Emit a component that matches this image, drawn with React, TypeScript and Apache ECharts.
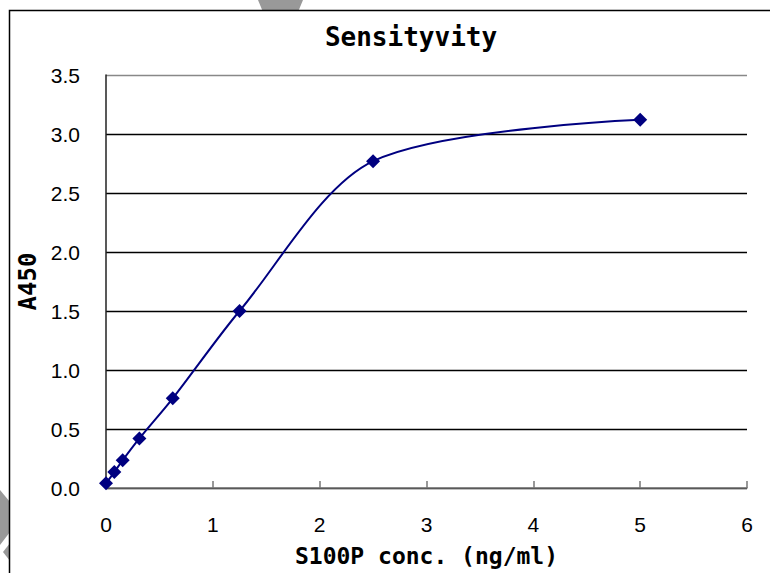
import React, { useEffect, useRef } from "react";
import * as echarts from "echarts";

const concentrations = [0, 0.078, 0.156, 0.3125, 0.625, 1.25, 2.5, 5];
const absorbance = [0.04, 0.135, 0.235, 0.42, 0.76, 1.5, 2.77, 3.12];
const xTicks = [0, 1, 2, 3, 4, 5, 6];
const yTickLabels = ["0.0", "0.5", "1.0", "1.5", "2.0", "2.5", "3.0", "3.5"];

export default function App() {
  const ref = useRef<HTMLDivElement>(null);
  useEffect(() => {
    if (!ref.current) return;
    const chart = echarts.init(ref.current, null, { renderer: "svg" });
    const tickFont = '"Liberation Sans Narrow", "Liberation Sans", Arial, sans-serif';
    const boldFont = '"DejaVu Sans Mono", monospace';
    chart.setOption({
      animation: false,
      backgroundColor: "#fff",
      title: {
        text: "Sensityvity",
        left: 406,
        top: 19,
        textAlign: "center",
        textStyle: { fontFamily: boldFont, fontWeight: "bold", fontSize: 26, color: "#000" },
      },
      graphic: [
        { type: "polygon", shape: { points: [[258, 0], [303, 0], [298, 12], [263, 12]] }, style: { fill: "#999" }, z: -10 },
        { type: "polygon", shape: { points: [[0, 490], [10, 502], [10, 532], [0, 545]] }, style: { fill: "#999" }, z: -10 },
        { type: "polygon", shape: { points: [[10, 543], [3, 552], [10, 561]] }, style: { fill: "#999" }, z: -10 },
        { type: "rect", shape: { x: 9.5, y: 10.5, width: 800, height: 600 }, style: { fill: "#fff", stroke: "#000", lineWidth: 1.5 }, z: -5 },
      ],
      grid: { left: 106, right: 23, top: 75, bottom: 85, containLabel: false },
      xAxis: {
        type: "value",
        min: 0,
        max: 6,
        interval: 1,
        name: "S100P conc. (ng/ml)",
        nameLocation: "middle",
        nameGap: 56,
        nameTextStyle: { fontFamily: boldFont, fontWeight: "bold", fontSize: 23, color: "#000" },
        axisLine: { lineStyle: { color: "#777", width: 1.5 } },
        axisTick: { inside: true, length: 7, lineStyle: { color: "#777", width: 1.5 } },
        axisLabel: {
          margin: 26,
          fontFamily: tickFont,
          fontSize: 21,
          color: "#000",
          formatter: (v: number) => (xTicks.includes(v) ? String(v) : ""),
        },
        splitLine: { show: false },
      },
      yAxis: {
        type: "value",
        min: 0,
        max: 3.5,
        interval: 0.5,
        name: "A450",
        nameLocation: "middle",
        nameGap: 56,
        nameRotate: 90,
        nameTextStyle: { fontFamily: boldFont, fontWeight: "bold", fontSize: 24, color: "#000" },
        axisLine: { show: true, lineStyle: { color: "#222", width: 1.5 } },
        axisTick: { show: false },
        axisLabel: {
          margin: 26,
          fontFamily: tickFont,
          fontSize: 21,
          color: "#000",
          formatter: (v: number) => yTickLabels[Math.round(v * 2)] ?? "",
        },
        splitLine: {
          show: true,
          lineStyle: { color: ["#000", "#000", "#000", "#000", "#000", "#000", "#000", "#888"], width: 1.3 },
        },
      },
      series: [
        {
          type: "line",
          data: concentrations.map((c, i) => [c, absorbance[i]]),
          smooth: 0.3,
          symbol: "diamond",
          symbolSize: 14,
          lineStyle: { color: "#000080", width: 2 },
          itemStyle: { color: "#000080" },
        },
      ],
    });
    return () => chart.dispose();
  }, []);
  return (
    <div
      ref={ref}
      style={{ position: "fixed", left: 0, top: 0, width: 770, height: 573 }}
    />
  );
}
